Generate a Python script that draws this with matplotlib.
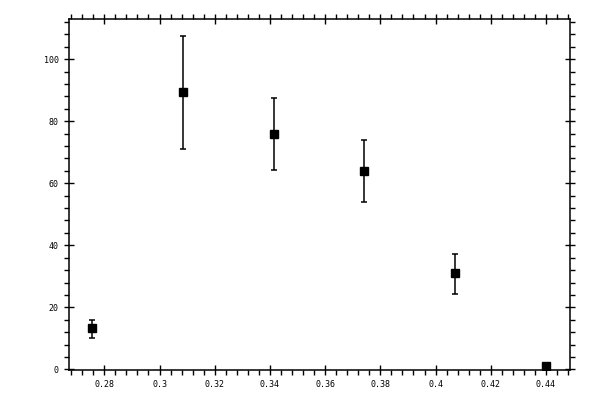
import matplotlib
matplotlib.use("Agg")
import matplotlib.pyplot as plt
from matplotlib.ticker import MultipleLocator, FuncFormatter

# values
x_vals = [0.2757, 0.3086, 0.3416, 0.3742, 0.4071, 0.4400]
y_vals = [13.2, 89.4, 75.8, 63.9, 31.0, 1.2]
err_low = [10.0, 71.0, 64.2, 53.9, 24.2, 1.2]
err_high = [16.0, 107.4, 87.4, 73.9, 37.3, 1.2]

yerr = [[y - lo for y, lo in zip(y_vals, err_low)],
        [hi - y for y, hi in zip(y_vals, err_high)]]

plt.rcParams['font.family'] = ['DejaVu Sans Mono']

fig = plt.figure(figsize=(6, 4), dpi=100)
ax = fig.add_axes([0.115, 0.075, 0.835, 0.877])

ax.errorbar(x_vals, y_vals, yerr=yerr, fmt="s", color="black",
            markersize=5.3, elinewidth=1.1, capsize=2.5, capthick=1.1)

ax.set_xlim(0.2672, 0.4487)
ax.set_ylim(-0.2, 112.9)

ax.xaxis.set_major_locator(MultipleLocator(0.02))
ax.xaxis.set_minor_locator(MultipleLocator(0.004))
ax.yaxis.set_major_locator(MultipleLocator(20))
ax.yaxis.set_minor_locator(MultipleLocator(4))
ax.xaxis.set_major_formatter(FuncFormatter(lambda v, p: f"{v:.2f}".rstrip("0")))

ax.tick_params(which="major", direction="inout", length=7, width=1,
               top=True, right=True, labelsize=6, pad=4)
ax.tick_params(which="minor", direction="out", length=3.5, width=1,
               top=True, right=True)
for s in ax.spines.values():
    s.set_linewidth(1.1)

fig.savefig("out.png", dpi=100)
